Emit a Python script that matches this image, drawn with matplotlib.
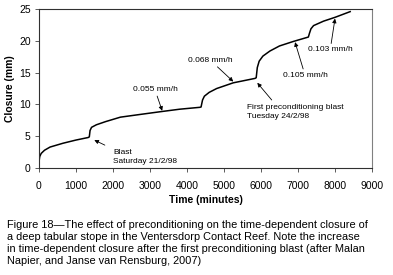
import numpy as np
import matplotlib
matplotlib.use("Agg")
import matplotlib.pyplot as plt

plt.rcParams['font.family'] = ['Liberation Sans', 'DejaVu Sans']

# closure curve (minutes, mm)
tiempo = [0, 20, 60, 150, 300, 650, 1000, 1330, 1360, 1380, 1420, 1550, 1800,
          2200, 2700, 3270, 3800, 4350, 4380, 4420, 4470, 4600, 4800, 5250,
          5840, 5870, 5900, 5950, 6050, 6240, 6500, 6870, 7280, 7310, 7350,
          7420, 7690, 8000, 8410]
cierre = [1.0, 1.8, 2.3, 2.8, 3.3, 3.9, 4.4, 4.8, 4.9, 5.9, 6.4, 6.8, 7.3,
          8.0, 8.4, 8.85, 9.25, 9.55, 9.6, 10.7, 11.3, 11.9, 12.5, 13.4,
          14.1, 14.2, 15.8, 16.8, 17.6, 18.4, 19.2, 19.9, 20.6, 21.2, 21.9,
          22.4, 23.1, 23.7, 24.6]

# annotations: text, text position, arrow head
notas = [
    ("0.055 mm/h", (3135, 12.3), (3330, 9.0)),
    ("0.068 mm/h", (4640, 16.9), (5250, 13.6)),
    ("0.105 mm/h", (7190, 14.6), (6920, 19.8)),
    ("0.103 mm/h", (7870, 18.6), (8000, 23.5)),
]
notas_izq = [
    ("Blast\nSaturday 21/2/98", (2010, 1.75), (1495, 4.4), (1780, 3.6)),
    ("First preconditioning blast\nTuesday 24/2/98", (5610, 8.8), (5900, 13.4), (6290, 10.7)),
]

pie = ("Figure 18\u2014The effect of preconditioning on the time-dependent closure of\n"
       "a deep tabular stope in the Ventersdorp Contact Reef. Note the increase\n"
       "in time-dependent closure after the first preconditioning blast (after Malan\n"
       "Napier, and Janse van Rensburg, 2007)")

fig = plt.figure(figsize=(3.93, 2.75), dpi=100)
ax = fig.add_axes([0.0992, 0.389, 0.8474, 0.578])

ax.plot(tiempo, cierre, color='black', lw=1.1)

flecha = dict(arrowstyle='-|>', color='black', lw=0.6, mutation_scale=6,
              shrinkA=0, shrinkB=0)
for txt, pos, punta in notas:
    ax.annotate(txt, xy=punta, xytext=pos, ha='center', va='center',
                fontsize=6, arrowprops=flecha)
for txt, pos, punta, cola in notas_izq:
    ax.text(pos[0], pos[1], txt, ha='left', va='center', fontsize=6,
            linespacing=1.55)
    ax.annotate('', xy=punta, xytext=cola, arrowprops=flecha)

ax.set_xlim(0, 9000)
ax.set_ylim(0, 25)
ax.set_xticks(np.arange(0, 9001, 1000))
ax.set_yticks(np.arange(0, 26, 5))
ax.tick_params(labelsize=7.5, length=3, width=0.6, direction='out', color='#404040')
ax.tick_params(axis='x', pad=6)
ax.tick_params(axis='y', pad=3)
for lado in ['left', 'bottom', 'top']:
    ax.spines[lado].set_color('#303030')
    ax.spines[lado].set_linewidth(0.8)
ax.spines['right'].set_color('#808080')
ax.spines['right'].set_linewidth(0.8)

ax.set_xlabel('Time (minutes)', fontsize=7.5, fontweight='bold', labelpad=3)
ax.set_ylabel('Closure (mm)', fontsize=7.5, fontweight='bold', labelpad=3)

fig.text(0.019, 0.116, pie, ha='left', va='center', fontsize=7.95, linespacing=1.22)

fig.savefig('out.png', dpi=100)
